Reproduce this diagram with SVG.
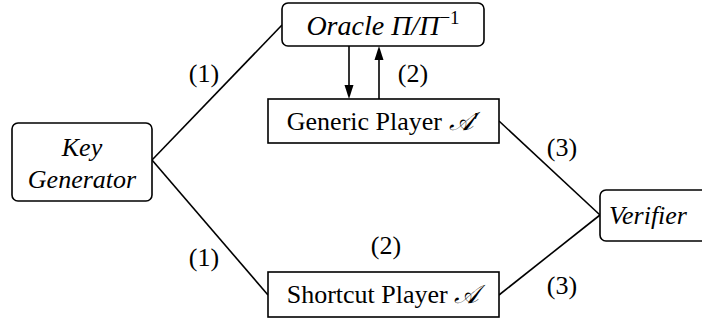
<svg xmlns="http://www.w3.org/2000/svg" width="702" height="323" viewBox="0 0 702 323">
<rect width="702" height="323" fill="#fff"/>
<g id="connectors" stroke="#000" stroke-width="1.6" fill="none">
<line x1="152" y1="160" x2="282" y2="25"/>
<line x1="152" y1="160" x2="268" y2="295"/>
<line x1="499" y1="121" x2="600" y2="215"/>
<line x1="499" y1="295" x2="600" y2="215"/>
<line x1="349" y1="46" x2="349" y2="86"/>
<path fill="#000" stroke="none" d="M344.5,85 L353.5,85 L349,99 Z"/>
<line x1="379" y1="99" x2="379" y2="59"/>
<path fill="#000" stroke="none" d="M374.5,60 L383.5,60 L379,46 Z"/>
</g>
<g id="labels">
<text font-family="Liberation Serif" font-size="26" x="204" y="82" text-anchor="middle">(1)</text>
<text font-family="Liberation Serif" font-size="26" x="204" y="266" text-anchor="middle">(1)</text>
<text font-family="Liberation Serif" font-size="26" x="413" y="82" text-anchor="middle">(2)</text>
<text font-family="Liberation Serif" font-size="26" x="386" y="254" text-anchor="middle">(2)</text>
<text font-family="Liberation Serif" font-size="26" x="562" y="156" text-anchor="middle">(3)</text>
<text font-family="Liberation Serif" font-size="26" x="562" y="294" text-anchor="middle">(3)</text>
</g>
<g id="oracle">
<rect fill="#fff" stroke="#000" stroke-width="1.6" x="282" y="3" width="202" height="43" rx="6"/>
<text font-family="Liberation Serif" font-style="italic" font-size="28" x="383" y="35" text-anchor="middle">Oracle &#x3A0;/&#x3A0;<tspan font-size="19" dy="-11" font-style="normal">&#x2212;1</tspan></text>
</g>
<g id="generic">
<rect fill="#fff" stroke="#000" stroke-width="1.6" x="268" y="99" width="231" height="44"/>
<text font-family="Liberation Serif" font-size="26" x="383" y="130" text-anchor="middle">Generic Player <tspan font-style="italic">&#x1D49C;</tspan>&#x2032;</text>
</g>
<g id="keygen">
<rect fill="#fff" stroke="#000" stroke-width="1.6" x="12" y="123" width="140" height="78" rx="6"/>
<text font-family="Liberation Serif" font-size="26" font-style="italic" x="82" y="156" text-anchor="middle">Key</text>
<text font-family="Liberation Serif" font-size="26" font-style="italic" x="82" y="188" text-anchor="middle">Generator</text>
</g>
<g id="verifier">
<rect fill="#fff" stroke="#000" stroke-width="1.6" x="600" y="190" width="110" height="51" rx="6"/>
<text font-family="Liberation Serif" font-size="26" font-style="italic" x="609" y="224">Verifier</text>
</g>
<g id="shortcut">
<rect fill="#fff" stroke="#000" stroke-width="1.6" x="268" y="272" width="231" height="45"/>
<text font-family="Liberation Serif" font-size="26" x="383" y="303" text-anchor="middle">Shortcut Player <tspan font-style="italic">&#x1D49C;</tspan></text>
</g>
</svg>
